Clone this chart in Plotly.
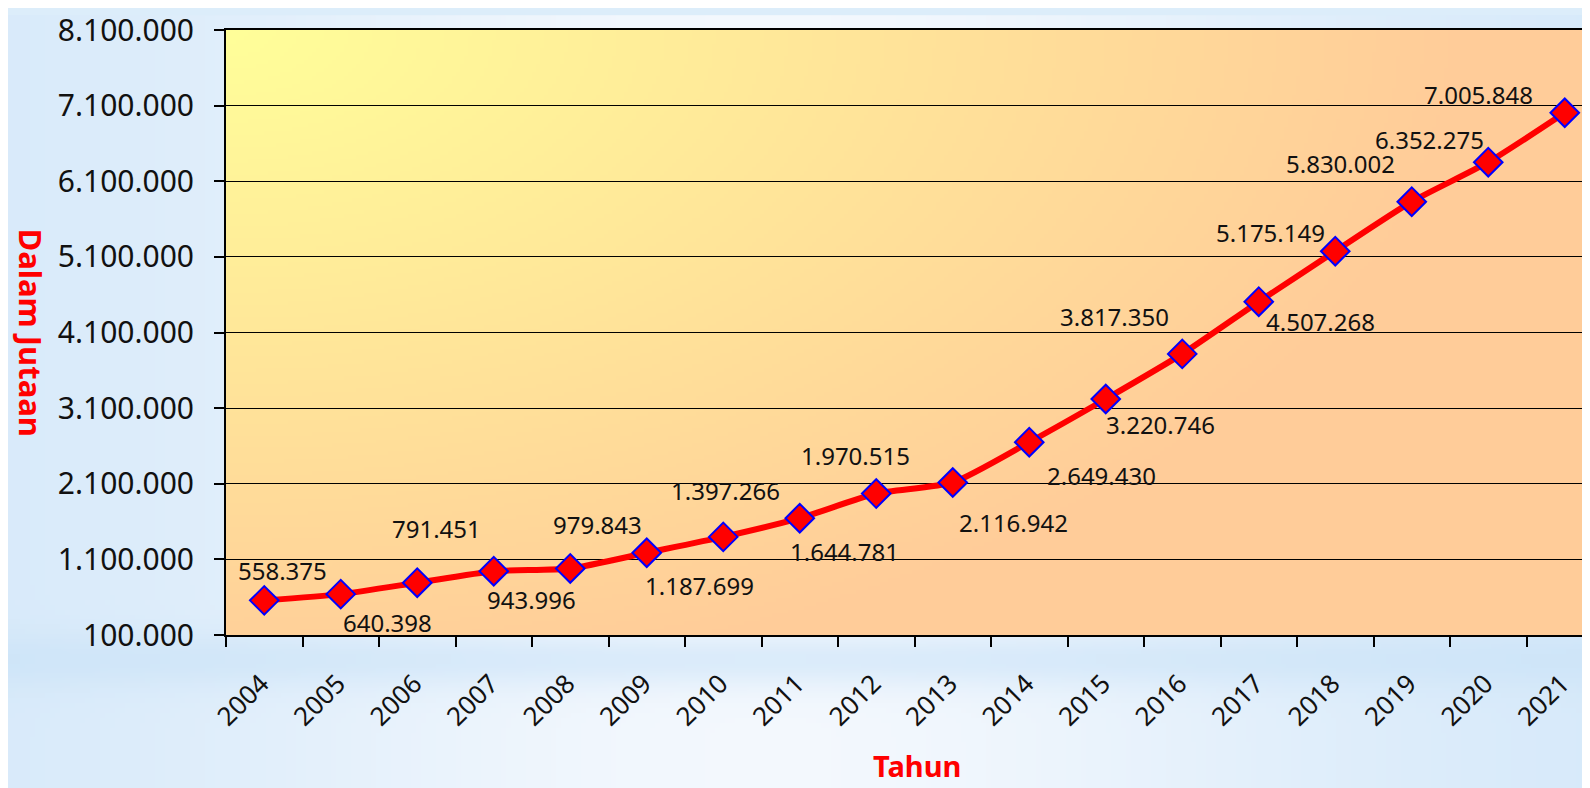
import base64
import struct
import zlib

import numpy as np
from plotly import graph_objs as go

# data
tahun = [str(y) for y in range(2004, 2022)]
nilai = [558375, 640398, 791451, 943996, 979843, 1187699, 1397266, 1644781, 1970515,
         2116942, 2649430, 3220746, 3817350, 4507268, 5175149, 5830002, 6352275, 7005848]
label_nilai = ["558.375", "640.398", "791.451", "943.996", "979.843", "1.187.699",
               "1.397.266", "1.644.781", "1.970.515", "2.116.942", "2.649.430",
               "3.220.746", "3.817.350", "4.507.268", "5.175.149", "5.830.002",
               "6.352.275", "7.005.848"]
y_ticks = [100000, 1100000, 2100000, 3100000, 4100000, 5100000, 6100000, 7100000, 8100000]
y_ticktext = ["100.000", "1.100.000", "2.100.000", "3.100.000", "4.100.000",
              "5.100.000", "6.100.000", "7.100.000", "8.100.000"]

# label offsets (px) relative to each point: right, down
label_dx = [18, 47, 19, 38, 27, 53, 2, 45, -21, 61, 72, 55, -68, 62, -65, -71, -59, -86]
label_dy = [-30, 28, -54, 28, -44, 33, -46, 33, -38, 40, 33, 26, -37, 20, -19, -38, -23, -18]

# plot area in figure px (page body adds 8px offset)
L, T, PLOT_H = 218, 15, 612
FIG_W, FIG_H = 1590, 788
PLOT_W = FIG_W - L


def png_uri(rgb):
    rgb = np.clip(rgb, 0, 255).astype(np.uint8)
    h, w, _ = rgb.shape
    raw = b"".join(b"\x00" + rgb[r].tobytes() for r in range(h))

    def chunk(tag, data):
        c = struct.pack(">I", len(data)) + tag + data
        return c + struct.pack(">I", zlib.crc32(tag + data) & 0xFFFFFFFF)

    png = b"\x89PNG\r\n\x1a\n"
    png += chunk(b"IHDR", struct.pack(">IIBBBBB", w, h, 8, 2, 0, 0, 0))
    png += chunk(b"IDAT", zlib.compress(raw, 9))
    png += chunk(b"IEND", b"")
    return "data:image/png;base64," + base64.b64encode(png).decode()


# page background: light blue with a pale band in the middle
W, H = 318, 158
xx, yy = np.meshgrid(np.linspace(0, 1, W), np.linspace(0, 1, H))
w = 0.9 * np.exp(-((xx - 0.48) / 0.36) ** 2)
w = 0.25 + 0.75 * w
w *= 1 - 0.55 * np.exp(-((yy - 0.83) / 0.035) ** 2)
blue = np.array([200, 226, 248])
white = np.array([247, 250, 254])
page_bg = blue[None, None, :] * (1 - w[..., None]) + white[None, None, :] * w[..., None]

# plot area background: yellow corner top-left fading to peach
PW, PH = 343, 153
px, py = np.meshgrid(np.linspace(0, PLOT_W, PW), np.linspace(0, PLOT_H, PH))
t = np.clip(np.sqrt((px / 1250) ** 2 + (py / 680) ** 2), 0, 1)
plot_bg = np.zeros((PH, PW, 3))
plot_bg[..., 0] = 255
plot_bg[..., 1] = 255 - 51 * t
plot_bg[..., 2] = 153

fig = go.Figure()
fig.add_trace(go.Scatter(
    x=tahun, y=nilai, mode="lines+markers",
    line=dict(color="#FF0000", width=6, shape="spline", smoothing=0.6),
    marker=dict(symbol="diamond", size=22, color="#FF0000",
                line=dict(color="#0000FF", width=2)),
    hoverinfo="x+y", showlegend=False,
))

for i in range(len(tahun)):
    fig.add_annotation(x=i, y=nilai[i], text=label_nilai[i], showarrow=False,
                       xshift=label_dx[i], yshift=-label_dy[i],
                       xanchor="center", yanchor="middle",
                       font=dict(family="Noto Sans", size=24, color="#111111"))

fig.add_annotation(xref="paper", yref="paper", x=0, y=0.5, xshift=-L,
                   xanchor="left", yanchor="middle",
                   text="<b>Dalam Jutaan</b>", textangle=90, showarrow=False,
                   font=dict(family="Noto Sans", size=31, color="#FF0000"))
fig.add_annotation(xref="paper", yref="paper", x=0.504, y=0, yshift=-(FIG_H - T - PLOT_H - 9),
                   xanchor="center", yanchor="bottom",
                   text="<b>Tahun</b>", showarrow=False,
                   font=dict(family="Noto Sans", size=29, color="#FF0000"))

fig.add_layout_image(dict(source=png_uri(page_bg), xref="paper", yref="paper",
                          x=-L / PLOT_W, y=1 + T / PLOT_H, sizex=FIG_W / PLOT_W,
                          sizey=FIG_H / PLOT_H, sizing="stretch", layer="below",
                          xanchor="left", yanchor="top"))
fig.add_layout_image(dict(source=png_uri(plot_bg), xref="x domain", yref="y domain",
                          x=0, y=1, sizex=1, sizey=1, sizing="stretch", layer="below",
                          xanchor="left", yanchor="top"))

fig.layout.update(
    width=FIG_W,
    height=FIG_H,
    margin=dict(l=L, r=0, t=T, b=FIG_H - T - PLOT_H),
    paper_bgcolor="#DCEDFA",
    plot_bgcolor="rgba(0,0,0,0)",
    font=dict(family="Noto Sans", color="#111111"),
    xaxis=dict(
        type="category", range=[-0.5, -0.5 + PLOT_W / 76.5], tickson="boundaries",
        ticks="outside", ticklen=10, tickwidth=2, tickcolor="black",
        tickangle=-45, tickfont=dict(size=26, color="#111111"),
        ticklabelstandoff=21, ticklabelshift=-3,
        showline=True, linecolor="black", linewidth=2, mirror=True,
        showgrid=False, zeroline=False, fixedrange=True,
    ),
    yaxis=dict(
        range=[100000, 8100000], tickvals=y_ticks, ticktext=y_ticktext,
        ticks="outside", ticklen=10, tickwidth=2, tickcolor="black",
        tickfont=dict(size=30, color="#111111"), ticklabelstandoff=14,
        ticklabeloverflow="allow",
        showline=True, linecolor="black", linewidth=2,
        showgrid=True, gridcolor="black", gridwidth=1,
        zeroline=False, fixedrange=True,
    ),
)

fig.write_html("out.html")
